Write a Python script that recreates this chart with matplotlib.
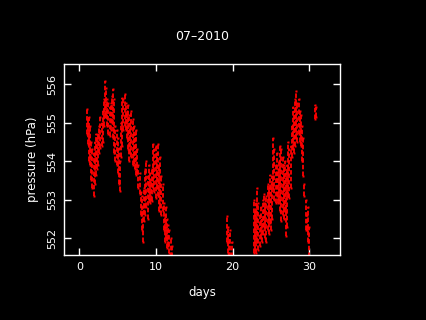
import matplotlib
matplotlib.use("Agg")
import matplotlib.pyplot as plt

title = "07\u20132010"
x_ticks = [0, 10, 20, 30]
y_ticks = [552, 553, 554, 555, 556]

# each column: day, highest and lowest pressure reading (hPa) in that column
days = [0.95, 1.1, 1.25, 1.4, 1.55, 1.7, 1.85, 2.0, 2.15, 2.3, 2.45, 2.6, 2.75, 2.9,
        3.05, 3.2, 3.35, 3.5, 3.65, 3.8, 3.95, 4.1, 4.25, 4.4, 4.55, 4.7, 4.85, 5.0,
        5.15, 5.3, 5.45, 5.6, 5.75, 5.9, 6.05, 6.2, 6.35, 6.5, 6.65, 6.8, 6.95, 7.1,
        7.25, 7.4, 7.55, 7.7, 7.85, 8.0, 8.15, 8.3, 8.45, 8.6, 8.75, 8.9, 9.05, 9.2,
        9.35, 9.5, 9.65, 9.8, 9.95, 10.1, 10.25, 10.4, 10.55, 10.7, 10.85, 11.0,
        11.15, 11.3, 11.45, 11.6, 11.75, 11.9, 12.05,
        19.25, 19.4, 19.55, 19.7, 19.85,
        22.75, 22.9, 23.05, 23.2, 23.35, 23.5, 23.65, 23.8, 23.95, 24.1, 24.25, 24.4,
        24.55, 24.7, 24.85, 25.0, 25.15, 25.3, 25.45, 25.6, 25.75, 25.9, 26.05, 26.2,
        26.35, 26.5, 26.65, 26.8, 26.95, 27.1, 27.25, 27.4, 27.55, 27.7, 27.85, 28.0,
        28.15, 28.3, 28.45, 28.6, 28.75, 28.9, 29.05, 29.2, 29.35, 29.5, 29.65, 29.8,
        29.95, 30.7, 30.85]
p_high = [555.35, 555.1, 555.15, 554.9, 554.5, 554.3, 554.2, 554.5, 554.7, 554.6, 554.7, 554.9, 555.15, 555.0,
          555.3, 555.6, 556.08, 555.9, 555.6, 555.5, 555.4, 555.5, 555.7, 555.87, 555.6, 554.9, 554.8, 554.6,
          554.35, 554.0, 555.0, 555.65, 555.6, 555.75, 555.5, 555.3, 555.45, 555.2, 555.0, 555.3, 555.1, 554.9,
          554.7, 554.8, 554.3, 553.9, 553.7, 553.2, 553.1, 552.8, 553.3, 553.8, 554.0, 553.6, 553.9, 553.7,
          553.5, 553.8, 554.44, 554.3, 554.4, 554.2, 554.45, 553.9, 554.1, 553.6, 553.4, 552.9,
          552.6, 552.8, 552.5, 552.35, 552.2, 552.0, 551.8,
          552.58, 552.3, 552.1, 552.2, 551.9,
          553.0, 552.7, 552.9, 553.3, 552.9, 552.6, 552.8, 552.5, 553.0, 553.15, 552.9, 553.1,
          553.4, 553.3, 553.65, 553.4, 553.6, 554.6, 554.3, 553.9, 554.2, 553.8, 554.0, 554.4,
          554.3, 554.1, 553.9, 554.0, 553.7, 553.9, 554.5, 554.3, 554.4, 554.9, 555.4, 555.3,
          555.6, 555.82, 555.5, 555.6, 555.3, 555.2, 554.9, 554.6, 553.4, 553.0, 552.6, 552.8,
          552.3, 555.45, 555.4]
p_low = [554.7, 554.45, 554.0, 553.9, 553.5, 553.3, 553.1, 553.4, 553.65, 553.8, 553.9, 554.2, 554.35, 554.4,
         554.5, 554.9, 555.15, 555.2, 554.9, 554.7, 554.65, 554.8, 555.0, 554.6, 554.2, 554.0, 553.9, 553.7,
         553.4, 553.22, 554.1, 554.4, 554.8, 554.9, 554.8, 554.6, 554.3, 554.0, 554.2, 554.1, 553.9, 553.95,
         553.8, 553.65, 553.7, 553.3, 553.15, 552.6, 552.2, 551.9, 552.45, 552.6, 552.8, 552.5, 553.0, 552.9,
         553.0, 552.95, 553.3, 553.2, 553.05, 553.3, 553.1, 552.7, 552.8, 552.6, 552.7, 552.2,
         551.9, 552.0, 551.75, 551.8, 551.6, 551.5, 551.5,
         551.9, 551.6, 551.5, 551.5, 551.5,
         551.6, 551.7, 551.6, 551.9, 551.7, 551.8, 552.0, 551.9, 552.1, 552.3, 552.0, 551.9,
         552.2, 552.1, 552.4, 552.2, 552.5, 553.3, 553.0, 552.9, 553.1, 552.9, 553.0, 552.7,
         552.45, 552.6, 552.5, 552.7, 552.05, 552.3, 553.1, 553.05, 553.3, 554.1, 554.3, 554.2,
         554.4, 554.6, 554.5, 554.7, 554.5, 554.4, 554.0, 553.6, 553.1, 552.2, 552.2, 551.9,
         551.5, 555.1, 555.15]

fig = plt.figure(figsize=(4.26, 3.2), dpi=100, facecolor="black")
ax = fig.add_axes([64 / 426, 1 - 255 / 320, 276 / 426, 191 / 320])
ax.set_facecolor("black")

ax.vlines(days, p_low, p_high, colors="#ff0000", linewidth=1.3,
          linestyles=(0, (2.5, 1.2)))
ax.plot(days, p_high, linestyle="none", marker="s", markersize=1.6, color="#ff0000", mec="none")
ax.plot(days, p_low, linestyle="none", marker="s", markersize=1.6, color="#ff0000", mec="none")

ax.set_xlim(-2, 34)
ax.set_ylim(551.56, 556.52)
ax.set_xticks(x_ticks)
ax.set_yticks(y_ticks)
ax.set_yticklabels([str(v) for v in y_ticks], rotation=90, va="center")

for s in ax.spines.values():
    s.set_color("white")
    s.set_linewidth(1.0)
ax.tick_params(direction="in", length=5, width=1, colors="white", labelsize=8,
               top=True, right=True, pad=5)

ax.set_xlabel("days", color="white", fontsize=8.5, labelpad=10)
ax.set_ylabel("pressure (hPa)", color="white", fontsize=8.5, labelpad=6)
fig.text(202 / 426, 1 - 37 / 320, title, color="white", fontsize=9, ha="center", va="center")

fig.savefig("out.png", dpi=100, facecolor="black")
